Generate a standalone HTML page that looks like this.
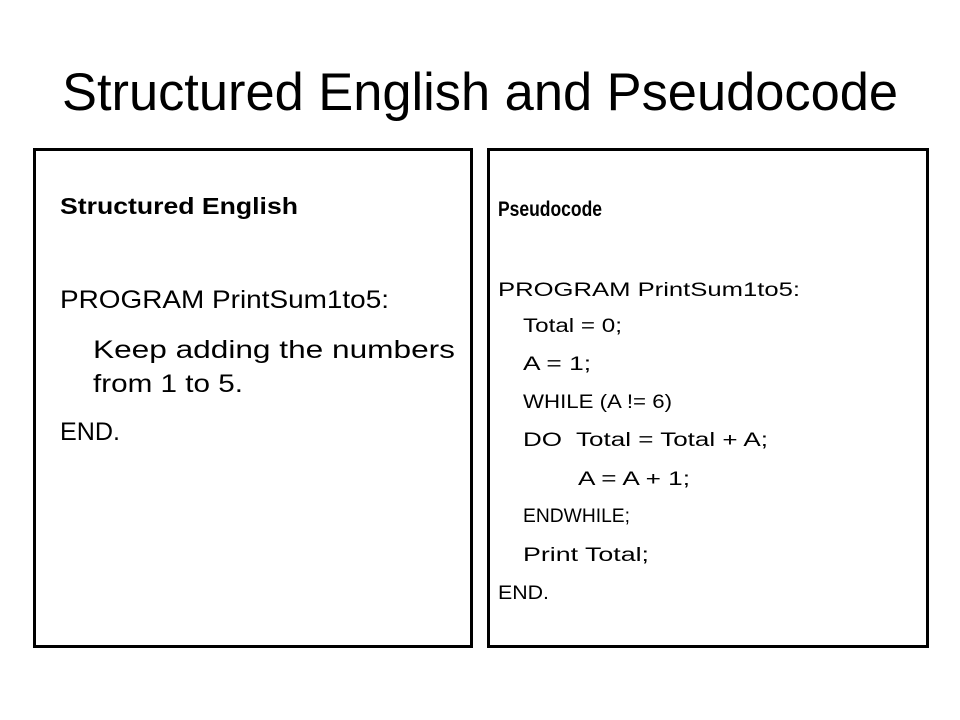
<!DOCTYPE html>
<html><head><meta charset="utf-8"><style>html,body{margin:0;padding:0;background:#fff;width:960px;height:720px;overflow:hidden}</style></head>
<body>
<svg width="960" height="720" xmlns="http://www.w3.org/2000/svg" font-family="Liberation Sans, sans-serif" fill="#000">
<rect x="0" y="0" width="960" height="720" fill="#fff"/>
<text x="62" y="110" font-size="53" textLength="836" lengthAdjust="spacingAndGlyphs">Structured English and Pseudocode</text>
<rect x="34.5" y="149.5" width="437" height="497" fill="none" stroke="#000" stroke-width="3"/>
<rect x="488.5" y="149.5" width="439" height="497" fill="none" stroke="#000" stroke-width="3"/>
<g font-size="25">
<text x="60" y="214" font-size="23" font-weight="bold" textLength="238" lengthAdjust="spacingAndGlyphs">Structured English</text>
<text x="60" y="308" textLength="329" lengthAdjust="spacingAndGlyphs">PROGRAM PrintSum1to5:</text>
<text x="93" y="358" textLength="362" lengthAdjust="spacingAndGlyphs">Keep adding the numbers</text>
<text x="93" y="392" textLength="150" lengthAdjust="spacingAndGlyphs">from 1 to 5.</text>
<text x="60" y="440" textLength="60" lengthAdjust="spacingAndGlyphs">END.</text>
</g>
<text x="498" y="216" font-size="21" font-weight="bold" textLength="104" lengthAdjust="spacingAndGlyphs">Pseudocode</text>
<g font-size="19">
<text x="498" y="296" textLength="302" lengthAdjust="spacingAndGlyphs">PROGRAM PrintSum1to5:</text>
<text x="523" y="332" textLength="99" lengthAdjust="spacingAndGlyphs">Total = 0;</text>
<text x="523" y="370" textLength="68" lengthAdjust="spacingAndGlyphs">A = 1;</text>
<text x="523" y="408" textLength="149" lengthAdjust="spacingAndGlyphs">WHILE (A != 6)</text>
<text x="523" y="446" textLength="245" lengthAdjust="spacingAndGlyphs" xml:space="preserve">DO  Total = Total + A;</text>
<text x="578" y="485" textLength="112" lengthAdjust="spacingAndGlyphs">A = A + 1;</text>
<text x="523" y="522" textLength="107" lengthAdjust="spacingAndGlyphs">ENDWHILE;</text>
<text x="523" y="561" textLength="126" lengthAdjust="spacingAndGlyphs">Print Total;</text>
<text x="498" y="599" textLength="51" lengthAdjust="spacingAndGlyphs">END.</text>
</g>
</svg>
</body></html>
